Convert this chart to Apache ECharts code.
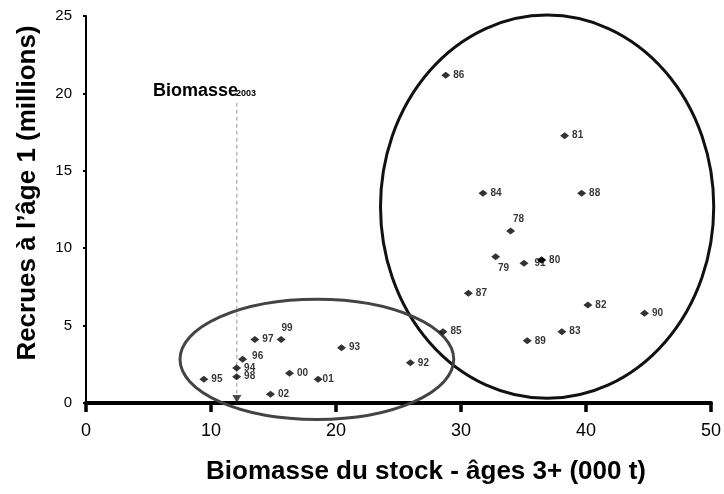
<!DOCTYPE html>
<html><head><meta charset="utf-8">
<script src="https://cdn.jsdelivr.net/npm/echarts@6/dist/echarts.min.js"></script>
<style>html,body{margin:0;padding:0;background:#fff}#c{width:724px;height:494px}</style>
</head><body><div id="c"></div>
<script>
// ---- data ----
const yearLabels = ['78','79','80','81','82','83','84','85','86','87','88','89','90','91','92','93','94','95','96','97','98','99','00','01','02'];
const biomass  = [33.97,32.77,36.45,38.29,40.15,38.07,31.76,28.56,28.78,30.59,39.65,35.30,44.68,35.04,25.95,20.44,12.05,9.43,12.53,13.51,12.05,15.61,16.28,18.57,14.76];
const recruits = [11.11,9.45,9.24,17.27,6.33,4.61,13.55,4.61,21.17,7.09,13.55,4.02,5.79,9.02,2.60,3.57,2.26,1.53,2.82,4.11,1.70,4.11,1.92,1.53,0.56];
// ellipses: centre and half-axes in data units
const ellipseCx = [36.89, 18.47];
const ellipseCy = [12.68, 2.82];
const ellipseRx = [13.33, 10.95];
const ellipseRy = [12.38, 3.88];
// Biomasse 2003 reference
const biomass2003 = 12.07;
const refLineTop = 19.4;
// axes
const xMin = 0, xMax = 50, xStep = 10;
const yMin = 0, yMax = 25, yStep = 5;

// ---- styles ----
const FONT = '"Liberation Sans", Arial, sans-serif';
const ellipseColors = ['#111111', '#444444'];
const labelPlacement = {
  '78': {position: 'top', offset: [8, 0]},
  '79': {position: 'bottom', offset: [8, 0]},
  '99': {position: 'top', offset: [6, 0]},
  '01': {distance: 0},
  '96': {offset: [2, -3]},
  '91': {offset: [3, 0]}
};

const pts = yearLabels.map((lab, i) => {
  const o = {name: lab, value: [biomass[i], recruits[i]]};
  if (labelPlacement[lab]) o.label = labelPlacement[lab];
  return o;
});
const overlayPts = pts.filter(p => p.name === '80').map(p => ({name: p.name, value: p.value}));

const ellData = ellipseCx.map((c, i) => [c, ellipseCy[i], ellipseRx[i], ellipseRy[i]]);

const chart = echarts.init(document.getElementById('c'), null, {renderer: 'canvas'});
chart.setOption({
  animation: false,
  backgroundColor: '#fff',
  grid: {left: 86, right: 12, top: 16, bottom: 91, containLabel: false},
  xAxis: {
    type: 'value', min: xMin, max: xMax, interval: xStep,
    axisLine: {show: true, lineStyle: {color: '#000', width: 4}},
    axisTick: {show: true, length: 9, lineStyle: {color: '#000', width: 3.5}},
    axisLabel: {color: '#000', fontSize: 18, fontFamily: FONT, margin: 19},
    splitLine: {show: false}
  },
  yAxis: {
    type: 'value', min: yMin, max: yMax, interval: yStep,
    axisLine: {show: true, lineStyle: {color: '#000', width: 2}},
    axisTick: {show: true, length: 3, lineStyle: {color: '#000', width: 2}},
    axisLabel: {color: '#000', fontSize: 15, fontFamily: FONT, margin: 14},
    splitLine: {show: false}
  },
  graphic: [
    {type: 'text', x: 28, y: 193, rotation: Math.PI / 2,
     style: {text: 'Recrues à l’âge 1 (millions)', font: 'bold 26px ' + FONT, fill: '#000', align: 'center', verticalAlign: 'middle'}},
    {type: 'text', x: 426, y: 472,
     style: {text: 'Biomasse du stock - âges 3+ (000 t)', font: 'bold 26px ' + FONT, fill: '#000', align: 'center', verticalAlign: 'middle'}},
    {type: 'text', x: 153, y: 91,
     style: {text: 'Biomasse', font: 'bold 18px ' + FONT, fill: '#000', align: 'left', verticalAlign: 'middle'}},
    {type: 'text', x: 236, y: 94,
     style: {text: '2003', font: 'bold 9px ' + FONT, fill: '#000', align: 'left', verticalAlign: 'middle'}}
  ],
  series: [
    {
      type: 'custom', clip: false, z: 1,
      data: ellData,
      renderItem: (params, api) => {
        const c = api.coord([api.value(0), api.value(1)]);
        const s = api.size([api.value(2), api.value(3)]);
        const rx = s[0], ry = s[1];
        const d = 'M ' + (c[0] - rx) + ' ' + c[1] +
          ' A ' + rx + ' ' + ry + ' 0 1 0 ' + (c[0] + rx) + ' ' + c[1] +
          ' A ' + rx + ' ' + ry + ' 0 1 0 ' + (c[0] - rx) + ' ' + c[1] + ' Z';
        return {type: 'path', shape: {pathData: d},
          style: {fill: 'none', stroke: ellipseColors[params.dataIndex], lineWidth: 3}};
      }
    },
    {
      type: 'line', z: 2, symbol: 'none', silent: true,
      data: [[biomass2003, refLineTop], [biomass2003, 0]],
      lineStyle: {color: '#9a9a9a', width: 1, type: [4, 3]}
    },
    {
      type: 'scatter', z: 3, symbol: 'triangle', symbolRotate: 180, symbolSize: [9, 8], symbolOffset: [0, -4],
      data: [[biomass2003, 0]],
      itemStyle: {color: '#222'}
    },
    {
      type: 'scatter', z: 4, symbol: 'diamond', symbolSize: [9, 7],
      data: pts,
      itemStyle: {color: '#000'},
      label: {show: true, formatter: '{b}', position: 'right', distance: 3,
        fontSize: 10, fontWeight: 'bold', color: '#000', fontFamily: FONT}
    },
    {
      type: 'scatter', z: 5, symbol: 'diamond', symbolSize: [9, 7],
      data: overlayPts,
      itemStyle: {color: '#000'},
      label: {show: false}
    }
  ]
});
</script>
</body></html>
